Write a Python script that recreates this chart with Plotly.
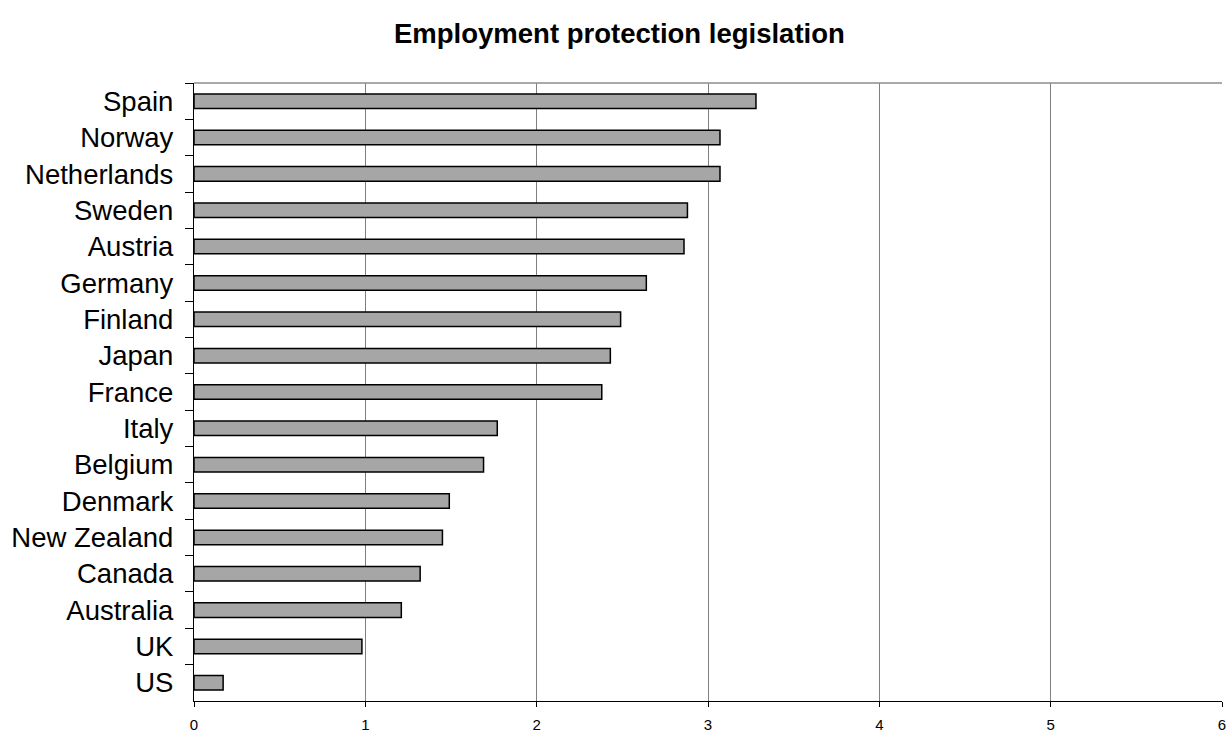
import plotly.graph_objects as go

countries = ["Spain", "Norway", "Netherlands", "Sweden", "Austria", "Germany",
             "Finland", "Japan", "France", "Italy", "Belgium", "Denmark",
             "New Zealand", "Canada", "Australia", "UK", "US"]
epl_values = [3.28, 3.07, 3.07, 2.88, 2.86, 2.64, 2.49, 2.43, 2.38, 1.77,
              1.69, 1.49, 1.45, 1.32, 1.21, 0.98, 0.17]
x_ticks = [0, 1, 2, 3, 4, 5, 6]

FONT = "Liberation Sans, Arial, sans-serif"

fig = go.Figure(go.Bar(
    x=epl_values,
    y=countries,
    orientation="h",
    marker=dict(color="#A6A6A6", line=dict(color="black", width=1.5)),
))

fig.update_layout(
    width=1229, height=734,
    margin=dict(l=194.4, r=7, t=82.7, b=33.3),
    paper_bgcolor="white", plot_bgcolor="white",
    bargap=0.6,
    showlegend=False,
    font=dict(family=FONT, color="black"),
    title=dict(text="<b>Employment protection legislation</b>",
               font=dict(family=FONT, size=27.5, color="black"),
               x=0.504, xanchor="center", y=0.955, yanchor="middle",
               xref="container", yref="container"),
    shapes=[dict(type="line", xref="paper", yref="paper", x0=0, x1=1, y0=1, y1=1,
                 line=dict(color="#8C8C8C", width=1.5))],
)

fig.update_xaxes(
    range=[0, 6], tickvals=x_ticks, ticktext=[str(v) for v in x_ticks],
    showgrid=True, gridcolor="#7F7F7F", gridwidth=1,
    showline=True, linecolor="black", linewidth=1.3,
    ticks="outside", ticklen=5, tickcolor="black", tickwidth=1,
    tickfont=dict(family=FONT, size=15, color="black"),
    ticklabelstandoff=5, automargin=False,
    zeroline=False, fixedrange=True,
)
fig.update_yaxes(
    categoryorder="array", categoryarray=countries,
    range=[len(countries) - 0.5, -0.5],
    showgrid=False, zeroline=False,
    showline=True, linecolor="black", linewidth=1.3,
    ticks="outside", ticklen=8, tickcolor="black", tickwidth=1,
    tickson="boundaries", automargin=False,
    tickfont=dict(family=FONT, size=27.5, color="black"),
    ticklabelstandoff=14,
)

fig.write_html("out.html")
